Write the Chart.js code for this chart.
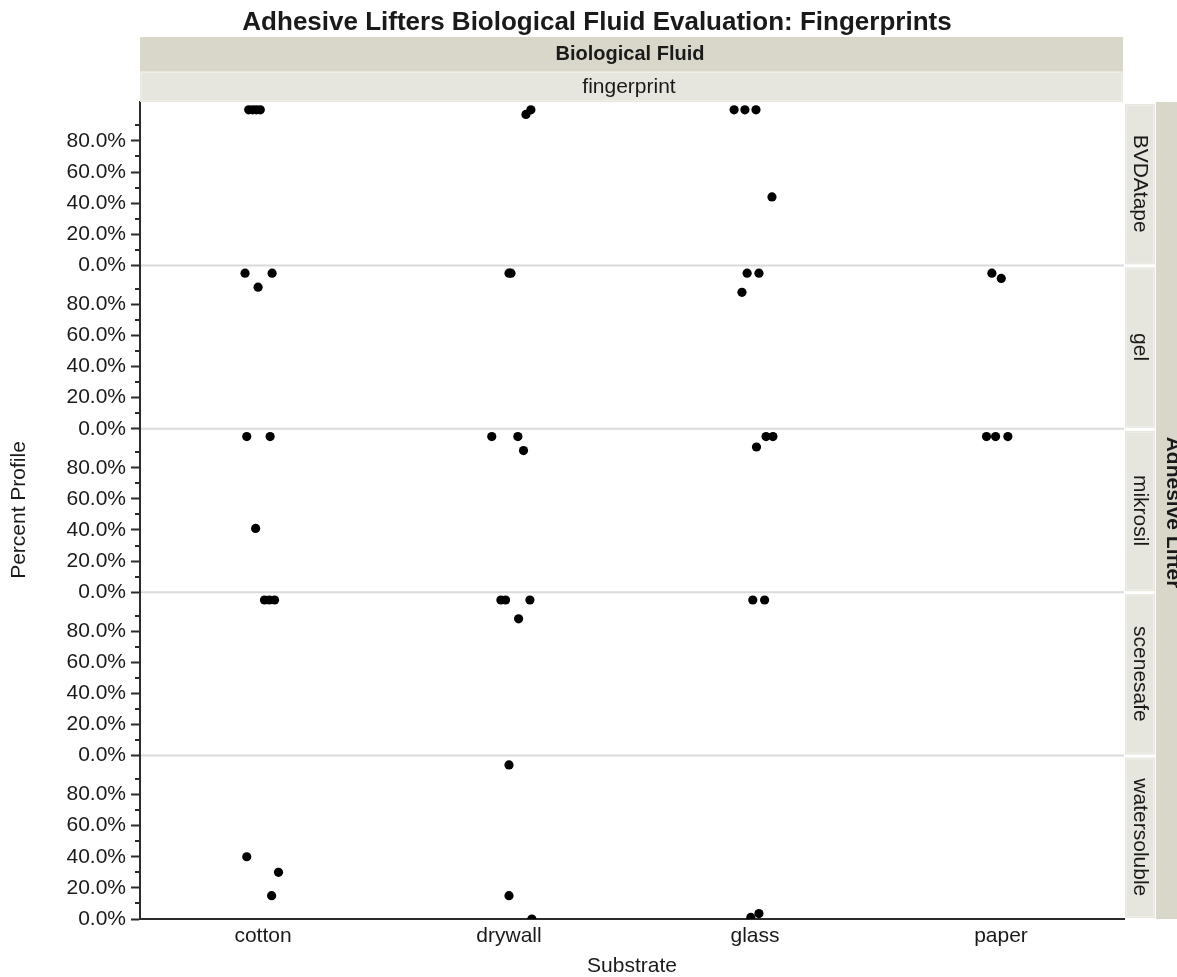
<!DOCTYPE html>
<html>
<head>
<meta charset="utf-8">
<title>Adhesive Lifters Biological Fluid Evaluation: Fingerprints</title>
<script src="https://cdn.jsdelivr.net/npm/chart.js@4"></script>
<style>
  html, body { margin: 0; padding: 0; background: #fff; }
  #wrap { width: 1177px; height: 977px; }
</style>
</head>
<body>
<div id="wrap"><canvas id="chart" width="1177" height="977"></canvas></div>
<script>
// categories and tick labels
const substrates = ['cotton', 'drywall', 'glass', 'paper'];
const lifters = ['BVDAtape', 'gel', 'mikrosil', 'scenesafe', 'watersoluble'];
const yTickValues = [0, 0.2, 0.4, 0.6, 0.8];
const yMinorValues = [0.1, 0.3, 0.5, 0.7, 0.9];

// percent profile per lifter: substrate, value, jitter (fraction of a category width)
const bvdatapeSubstrate = ['cotton', 'cotton', 'cotton', 'cotton', 'drywall', 'drywall', 'glass', 'glass', 'glass', 'glass'];
const bvdatapeValue = [1, 1, 1, 1, 0.97, 1, 1, 1, 1, 0.44];
const bvdatapeJitter = [-0.058, -0.042, -0.027, -0.011, 0.069, 0.089, -0.085, -0.041, 0.004, 0.069];

const gelSubstrate = ['cotton', 'cotton', 'cotton', 'drywall', 'drywall', 'glass', 'glass', 'glass', 'paper', 'paper'];
const gelValue = [1, 0.91, 1, 1, 1, 1, 1, 0.877, 1, 0.966];
const gelJitter = [-0.073, -0.020, 0.037, 0, 0.008, -0.032, 0.016, -0.053, -0.037, 0.001];

const mikrosilSubstrate = ['cotton', 'cotton', 'cotton', 'drywall', 'drywall', 'drywall', 'glass', 'glass', 'glass', 'paper', 'paper', 'paper'];
const mikrosilValue = [1, 1, 0.41, 1, 1, 0.91, 0.933, 1, 1, 1, 1, 1];
const mikrosilJitter = [-0.066, 0.029, -0.030, -0.070, 0.036, 0.059, 0.006, 0.045, 0.073, -0.059, -0.022, 0.028];

const scenesafeSubstrate = ['cotton', 'cotton', 'cotton', 'drywall', 'drywall', 'drywall', 'drywall', 'glass', 'glass'];
const scenesafeValue = [1, 1, 1, 1, 1, 1, 0.879, 1, 1];
const scenesafeJitter = [0.006, 0.026, 0.047, -0.033, -0.014, 0.085, 0.039, -0.009, 0.039];

const watersolubleSubstrate = ['cotton', 'cotton', 'cotton', 'drywall', 'drywall', 'drywall', 'glass', 'glass'];
const watersolubleValue = [0.40, 0.30, 0.15, 0.99, 0.15, 0, 0.01, 0.035];
const watersolubleJitter = [-0.066, 0.063, 0.035, 0, 0, 0.093, -0.017, 0.016];

const panels = [
  [bvdatapeSubstrate, bvdatapeValue, bvdatapeJitter],
  [gelSubstrate, gelValue, gelJitter],
  [mikrosilSubstrate, mikrosilValue, mikrosilJitter],
  [scenesafeSubstrate, scenesafeValue, scenesafeJitter],
  [watersolubleSubstrate, watersolubleValue, watersolubleJitter]
];

const FONT = '"Liberation Sans", Arial, sans-serif';
const TEXT = '#1a1a1a';
const AXIS = '#2b2b2b';
const STRIP_DARK = '#d9d7c9';
const STRIP_LIGHT = '#e6e6de';

Chart.defaults.font.family = FONT;
Chart.defaults.color = TEXT;

const datasets = panels.map((p, i) => ({
  label: lifters[i],
  yAxisID: 'y' + i,
  data: p[0].map((s, k) => ({ x: substrates.indexOf(s) + p[2][k], y: p[1][k] })),
  pointRadius: 4.6,
  pointHoverRadius: 4.6,
  pointBackgroundColor: '#000',
  pointBorderWidth: 0,
  clip: 0
}));

const scales = {
  x: {
    type: 'linear',
    min: -0.5,
    max: 3.5,
    afterBuildTicks: (s) => { s.ticks = substrates.map((c, i) => ({ value: i })); },
    afterFit: (s) => { s.height = 58; },
    ticks: {
      callback: (v) => substrates[v],
      font: { size: 21 },
      color: TEXT,
      padding: 5,
      autoSkip: false,
      maxRotation: 0
    },
    grid: { display: false, drawTicks: false },
    border: { display: true, color: AXIS, width: 2 }
  }
};

lifters.forEach((name, i) => {
  scales['y' + i] = {
    type: 'linear',
    position: 'left',
    stack: 'rows',
    stackWeight: 1,
    weight: lifters.length - i,
    min: 0,
    max: 1.05,
    afterBuildTicks: (s) => { s.ticks = yTickValues.map((v) => ({ value: v })); },
    afterFit: (s) => { s.width = 100; },
    ticks: {
      callback: (v) => (v * 100).toFixed(1) + '%',
      font: { size: 21 },
      color: TEXT,
      padding: 5,
      autoSkip: false
    },
    grid: { drawOnChartArea: false, drawTicks: true, tickLength: 9, tickWidth: 2, tickColor: AXIS },
    border: { color: AXIS, width: 2 }
  };
});

function rotatedText(ctx, text, x, y, angle, font) {
  ctx.save();
  ctx.translate(x, y);
  ctx.rotate(angle);
  ctx.font = font;
  ctx.fillText(text, 0, 0);
  ctx.restore();
}

const facetDecor = {
  id: 'facetDecor',
  beforeDatasetsDraw(chart) {
    const { ctx, chartArea } = chart;
    ctx.save();
    ctx.strokeStyle = '#dadada';
    ctx.lineWidth = 2;
    for (let i = 0; i < lifters.length - 1; i++) {
      const y = chart.scales['y' + i].bottom;
      ctx.beginPath();
      ctx.moveTo(chartArea.left + 1, y);
      ctx.lineTo(chartArea.right, y);
      ctx.stroke();
    }
    ctx.restore();
  },
  afterDraw(chart) {
    const { ctx, chartArea } = chart;
    const left = chartArea.left, right = chartArea.right;
    const mid = (left + right) / 2;
    ctx.save();
    ctx.fillStyle = TEXT;

    // title
    ctx.textAlign = 'center';
    ctx.textBaseline = 'alphabetic';
    ctx.font = 'bold 26px ' + FONT;
    ctx.fillText('Adhesive Lifters Biological Fluid Evaluation: Fingerprints', 597, 30);

    // column header strips
    ctx.fillStyle = STRIP_DARK;
    ctx.fillRect(left, 37, right - left - 1, 34);
    ctx.fillStyle = STRIP_LIGHT;
    ctx.fillRect(left, 71, right - left - 1, 31);
    ctx.strokeStyle = '#efefea';
    ctx.lineWidth = 1;
    ctx.strokeRect(left + 1.5, 72.5, right - left - 4, 28);
    ctx.fillStyle = TEXT;
    ctx.textBaseline = 'middle';
    ctx.font = 'bold 20px ' + FONT;
    ctx.fillText('Biological Fluid', mid - 2, 54);
    ctx.font = '21px ' + FONT;
    ctx.fillText('fingerprint', mid - 3, 87);

    // row strips
    const stripL = right + 1;
    ctx.fillStyle = STRIP_DARK;
    ctx.fillRect(stripL + 31, chartArea.top, 1177 - stripL - 31, chartArea.bottom - chartArea.top);
    lifters.forEach((name, i) => {
      const s = chart.scales['y' + i];
      ctx.fillStyle = STRIP_LIGHT;
      ctx.fillRect(stripL, s.top + 2, 30, s.bottom - s.top - 3);
      ctx.strokeStyle = '#efefea';
      ctx.strokeRect(stripL + 1.5, s.top + 3.5, 27, s.bottom - s.top - 6);
      ctx.fillStyle = TEXT;
      ctx.textAlign = 'center';
      ctx.textBaseline = 'middle';
      rotatedText(ctx, name, stripL + 15, (s.top + s.bottom) / 2, Math.PI / 2, '21px ' + FONT);
    });
    ctx.textBaseline = 'alphabetic';
    rotatedText(ctx, 'Adhesive Lifter', 1167, (chartArea.top + chartArea.bottom) / 2 + 2, Math.PI / 2, 'bold 21px ' + FONT);

    // axis titles
    ctx.textBaseline = 'middle';
    rotatedText(ctx, 'Percent Profile', 19, 510, -Math.PI / 2, '21px ' + FONT);
    ctx.font = '21px ' + FONT;
    ctx.fillText('Substrate', mid, 966);

    // minor ticks
    ctx.strokeStyle = AXIS;
    ctx.lineWidth = 2;
    lifters.forEach((name, i) => {
      const s = chart.scales['y' + i];
      yMinorValues.forEach((v) => {
        const y = Math.round(s.getPixelForValue(v));
        ctx.beginPath();
        ctx.moveTo(s.right - 5, y);
        ctx.lineTo(s.right, y);
        ctx.stroke();
      });
    });
    ctx.restore();
  }
};

new Chart(document.getElementById('chart'), {
  type: 'scatter',
  data: { datasets },
  options: {
    responsive: false,
    animation: false,
    layout: { padding: { left: 40, right: 53, top: 102, bottom: 0 } },
    plugins: { legend: { display: false }, tooltip: { enabled: false } },
    scales
  },
  plugins: [facetDecor]
});
</script>
</body>
</html>
